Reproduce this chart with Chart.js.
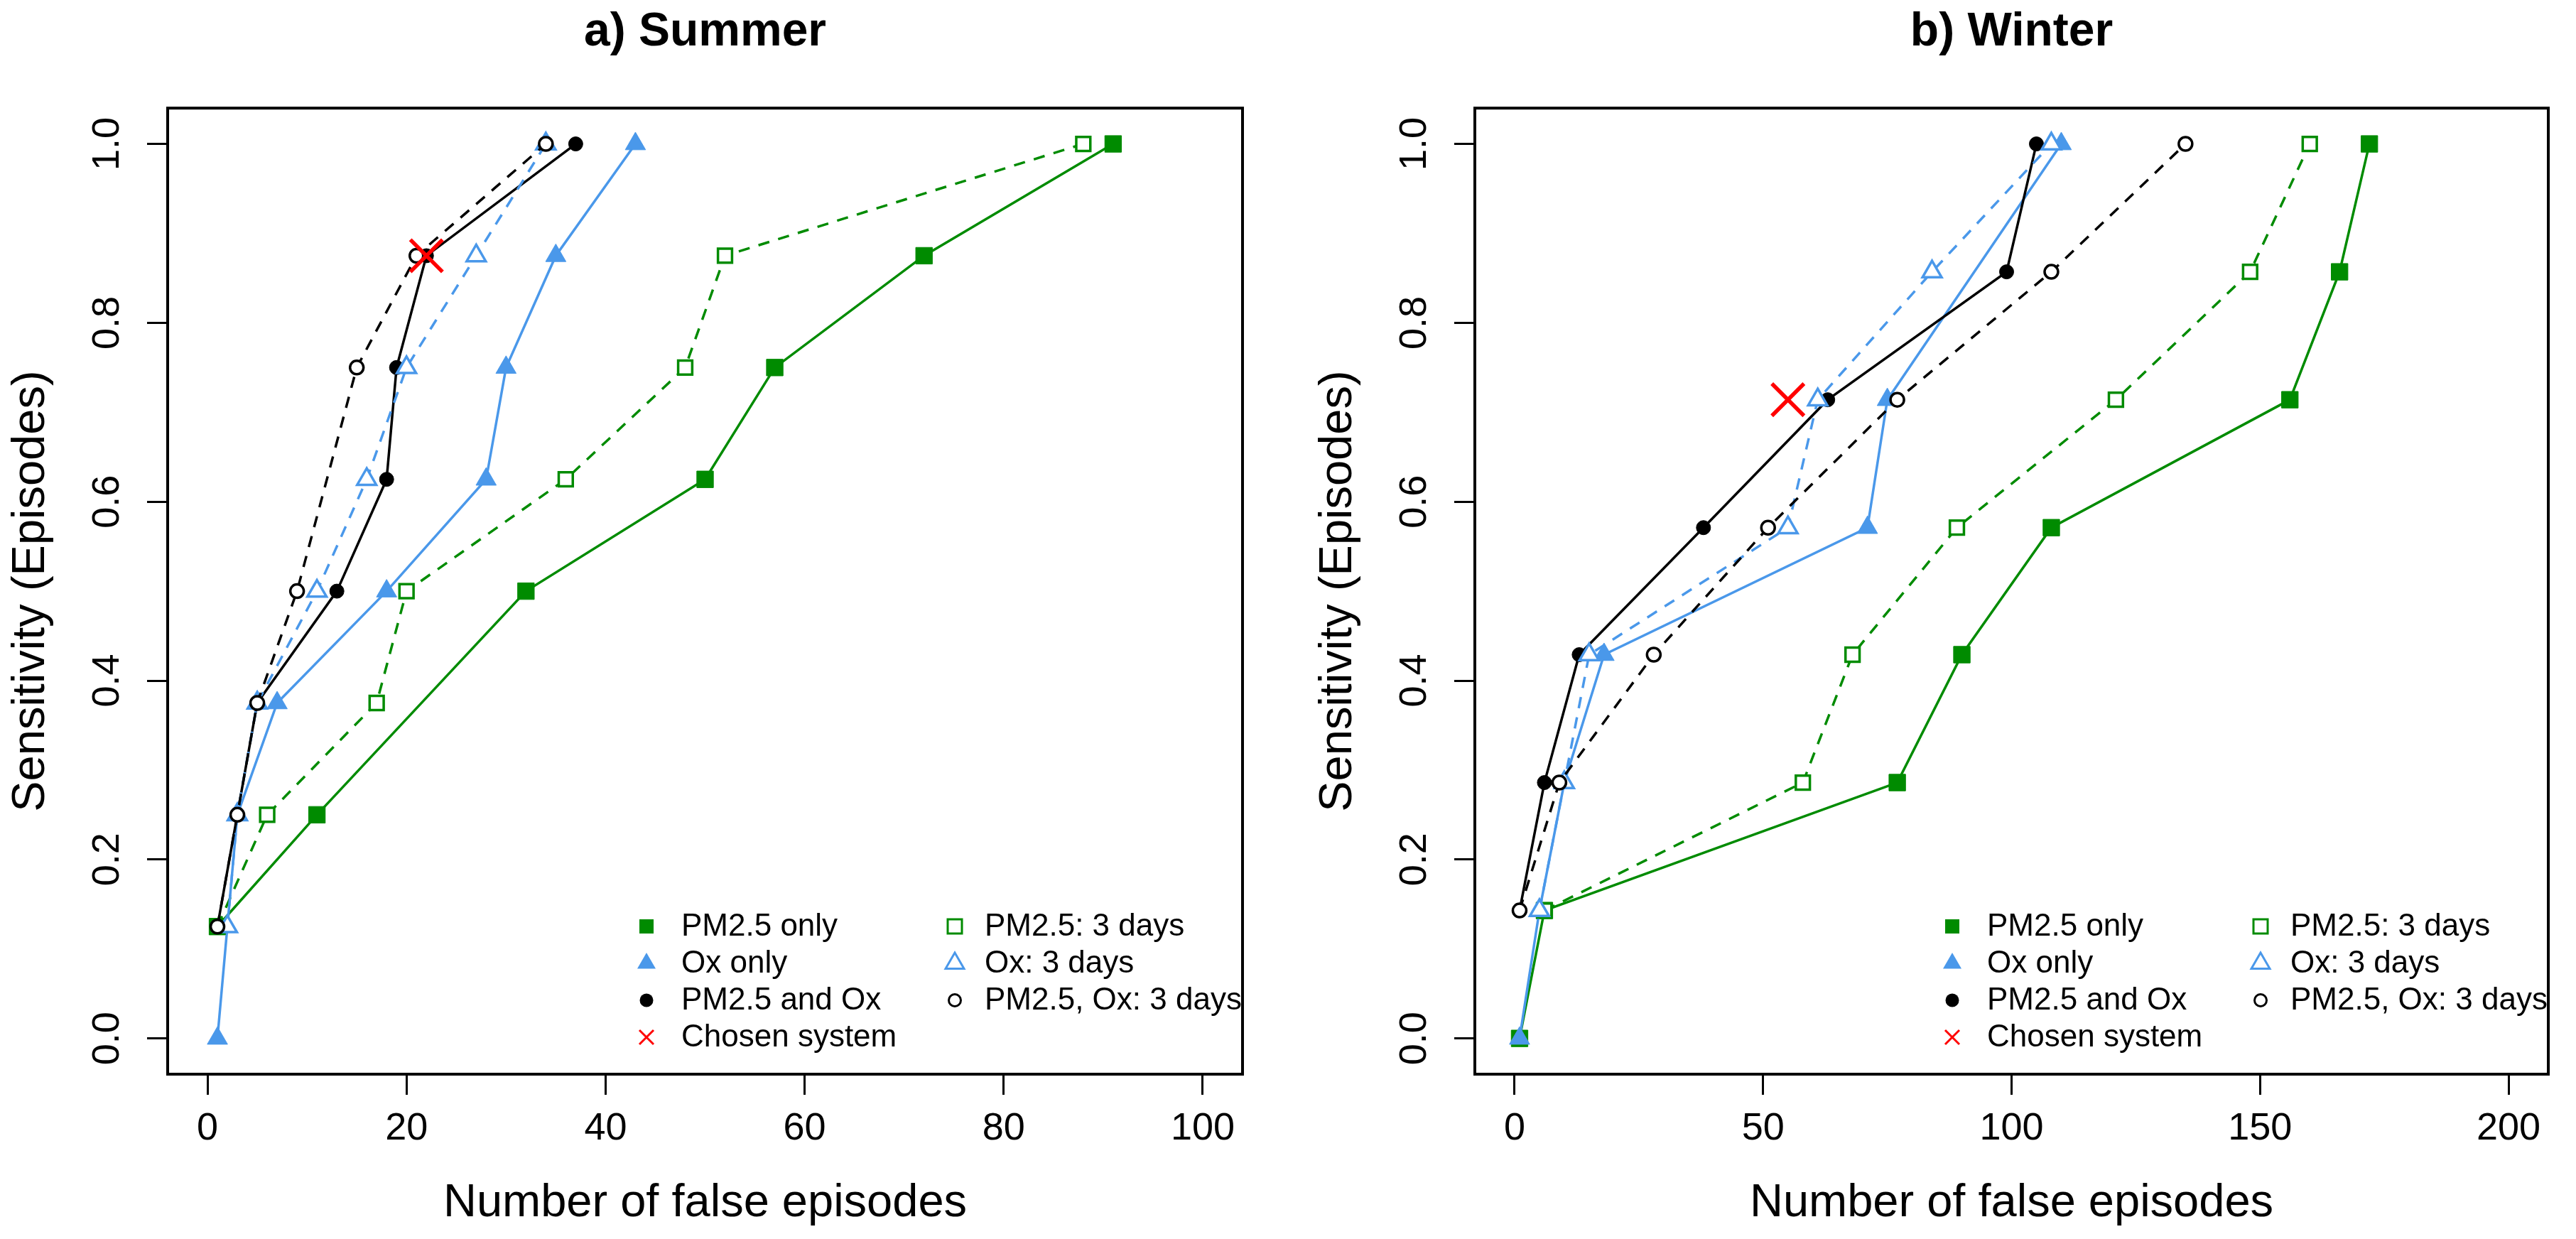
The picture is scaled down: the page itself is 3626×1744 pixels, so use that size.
<!DOCTYPE html>
<html>
<head>
<meta charset="utf-8">
<script src="https://cdn.jsdelivr.net/npm/chart.js@4.4.1/dist/chart.umd.min.js"></script>
<style>
html, body { margin: 0; padding: 0; background: #ffffff; }
body { width: 3626px; height: 1744px; position: relative; overflow: hidden; }
canvas { position: absolute; top: 0; }
#summer { left: 0; }
#winter { left: 1840px; }
</style>
</head>
<body>
<canvas id="summer" width="1840" height="1744" style="width:1840px;height:1744px"></canvas>
<canvas id="winter" width="1786" height="1744" style="width:1786px;height:1744px"></canvas>
<script>
// ---------------- DATA ----------------
const seriesLabels = ["PM2.5 only", "Ox only", "PM2.5 and Ox", "Chosen system",
                      "PM2.5: 3 days", "Ox: 3 days", "PM2.5, Ox: 3 days"];

const yTicks = [0, 0.2, 0.4, 0.6, 0.8, 1.0];
const yTickLabels = ["0.0", "0.2", "0.4", "0.6", "0.8", "1.0"];

const summerXTicks = [0, 20, 40, 60, 80, 100];
const summerXTickLabels = ["0", "20", "40", "60", "80", "100"];
const winterXTicks = [0, 50, 100, 150, 200];
const winterXTickLabels = ["0", "50", "100", "150", "200"];

// Summer (a)
const summerPm25OnlyX = [1, 11, 32, 50, 57, 72, 91];
const summerPm25OnlyY = [0.125, 0.25, 0.5, 0.625, 0.75, 0.875, 1.0];
const summerOxOnlyX = [1, 2, 3, 7, 18, 28, 30, 35, 43];
const summerOxOnlyY = [0, 0.125, 0.25, 0.375, 0.5, 0.625, 0.75, 0.875, 1.0];
const summerBothX = [1, 3, 5, 13, 18, 19, 22, 37];
const summerBothY = [0.125, 0.25, 0.375, 0.5, 0.625, 0.75, 0.875, 1.0];
const summerChosenX = [22];
const summerChosenY = [0.875];
const summerPm25ThreeX = [1, 6, 17, 20, 36, 48, 52, 88];
const summerPm25ThreeY = [0.125, 0.25, 0.375, 0.5, 0.625, 0.75, 0.875, 1.0];
const summerOxThreeX = [2, 3, 5, 11, 16, 20, 27, 34];
const summerOxThreeY = [0.125, 0.25, 0.375, 0.5, 0.625, 0.75, 0.875, 1.0];
const summerBothThreeX = [1, 3, 5, 9, 15, 21, 34];
const summerBothThreeY = [0.125, 0.25, 0.375, 0.5, 0.75, 0.875, 1.0];

// Winter (b)
const winterPm25OnlyX = [1, 6, 77, 90, 108, 156, 166, 172];
const winterPm25OnlyY = [0, 0.143, 0.286, 0.429, 0.571, 0.714, 0.857, 1.0];
const winterOxOnlyX = [1, 5, 10, 18, 71, 75, 110];
const winterOxOnlyY = [0, 0.143, 0.286, 0.429, 0.571, 0.714, 1.0];
const winterBothX = [1, 6, 13, 38, 63, 99, 105];
const winterBothY = [0.143, 0.286, 0.429, 0.571, 0.714, 0.857, 1.0];
const winterChosenX = [55];
const winterChosenY = [0.714];
const winterPm25ThreeX = [6, 58, 68, 89, 121, 148, 160];
const winterPm25ThreeY = [0.143, 0.286, 0.429, 0.571, 0.714, 0.857, 1.0];
const winterOxThreeX = [5, 10, 15, 55, 61, 84, 108];
const winterOxThreeY = [0.143, 0.286, 0.429, 0.571, 0.714, 0.857, 1.0];
const winterBothThreeX = [1, 9, 28, 51, 77, 108, 135];
const winterBothThreeY = [0.143, 0.286, 0.429, 0.571, 0.714, 0.857, 1.0];

// ---------------- STYLES ----------------
const FONT = "'Liberation Sans', Arial, Helvetica, sans-serif";
const GREEN = "#008B00";
const BLUE = "#4A98EA";
const BLACK = "#000000";
const RED = "#FF0000";

// style per series (same order as seriesLabels)
const seriesStyles = [
  { color: GREEN, shape: "rect",     filled: true,  dash: false, line: true,  r: 16.5, pbw: 1,   order: 6 },
  { color: BLUE,  shape: "triangle", filled: true,  dash: false, line: true,  r: 16.5, pbw: 1,   order: 5 },
  { color: BLACK, shape: "circle",   filled: true,  dash: false, line: true,  r: 10,   pbw: 1,   order: 4 },
  { color: RED,   shape: "crossRot", filled: false, dash: false, line: false, r: 32,   pbw: 5.5, order: 0 },
  { color: GREEN, shape: "rect",     filled: false, dash: true,  line: true,  r: 14,   pbw: 3.5, order: 3 },
  { color: BLUE,  shape: "triangle", filled: false, dash: true,  line: true,  r: 15.5, pbw: 3.5, order: 2 },
  { color: BLACK, shape: "circle",   filled: false, dash: true,  line: true,  r: 9.5,  pbw: 3.5, order: 1 }
];

function toPoints(xs, ys) { return xs.map((x, i) => ({ x: x, y: ys[i] })); }

function buildDatasets(seriesXY) {
  return seriesXY.map((xy, i) => {
    const st = seriesStyles[i];
    return {
      label: seriesLabels[i],
      data: toPoints(xy[0], xy[1]),
      showLine: st.line,
      borderColor: st.color,
      backgroundColor: st.color,
      borderWidth: 3.5,
      borderDash: st.dash ? [16, 13] : [],
      tension: 0,
      pointStyle: st.shape,
      pointRadius: st.r,
      pointHoverRadius: st.r,
      pointBorderWidth: st.pbw,
      pointBorderColor: st.color,
      pointBackgroundColor: st.filled ? st.color : "#ffffff",
      order: st.order,
      _st: st
    };
  });
}

// legend symbol drawing
function drawSymbol(ctx, st, x, y) {
  ctx.save();
  ctx.setLineDash([]);
  ctx.strokeStyle = st.color;
  ctx.fillStyle = st.color;
  ctx.lineWidth = 3;
  ctx.beginPath();
  if (st.shape === "rect") {
    if (st.filled) { ctx.fillRect(x - 10, y - 10, 20, 20); }
    else { ctx.strokeRect(x - 10, y - 10, 20, 20); }
  } else if (st.shape === "triangle") {
    const r = 15;
    ctx.moveTo(x, y - r);
    ctx.lineTo(x + 0.866 * r, y + 0.5 * r);
    ctx.lineTo(x - 0.866 * r, y + 0.5 * r);
    ctx.closePath();
    if (st.filled) ctx.fill(); else ctx.stroke();
  } else if (st.shape === "circle") {
    if (st.filled) { ctx.arc(x, y, 9.5, 0, Math.PI * 2); ctx.fill(); }
    else { ctx.arc(x, y, 8.5, 0, Math.PI * 2); ctx.stroke(); }
  } else if (st.shape === "crossRot") {
    const h = 10;
    ctx.moveTo(x - h, y - h); ctx.lineTo(x + h, y + h);
    ctx.moveTo(x + h, y - h); ctx.lineTo(x - h, y + h);
    ctx.stroke();
  }
  ctx.restore();
}

const framePlugin = {
  id: "frameAndLegend",
  afterDraw(chart) {
    const ctx = chart.ctx;
    const a = chart.chartArea;
    ctx.save();
    ctx.setLineDash([]);
    ctx.strokeStyle = "#000";
    ctx.lineWidth = 4;
    ctx.strokeRect(a.left, a.top, a.right - a.left, a.bottom - a.top);

    // legend (bottom-right, two columns filled column-wise)
    const rows = [208, 156, 104, 52];
    const cols = [{ sym: 839, txt: 790 }, { sym: 405, txt: 363 }];
    ctx.font = "44px " + FONT;
    ctx.textBaseline = "middle";
    ctx.textAlign = "left";
    ctx.fillStyle = "#000";
    chart.data.datasets.forEach((ds, i) => {
      const col = i < 4 ? 0 : 1;
      const row = i < 4 ? i : i - 4;
      const y = a.bottom - rows[row];
      drawSymbol(ctx, ds._st, a.right - cols[col].sym, y);
      ctx.fillStyle = "#000";
      ctx.fillText(ds.label, a.right - cols[col].txt, y + 1);
    });
    ctx.restore();
  }
};

function makeChart(id, titleText, seriesXY, xMin, xMax, xTicks, xTickLabels, padRight) {
  const ctx = document.getElementById(id).getContext("2d");
  return new Chart(ctx, {
    type: "scatter",
    data: { datasets: buildDatasets(seriesXY) },
    plugins: [framePlugin],
    options: {
      responsive: false,
      devicePixelRatio: 1,
      animation: false,
      events: [],
      layout: { padding: { left: 0, right: padRight, top: 0, bottom: 0 } },
      plugins: {
        legend: { display: false },
        tooltip: { enabled: false },
        title: {
          display: true,
          text: titleText,
          fullSize: false,
          color: "#000",
          font: { family: FONT, size: 66, weight: "bold" },
          padding: { top: 6, bottom: 67 }
        }
      },
      scales: {
        x: {
          type: "linear",
          min: xMin,
          max: xMax,
          afterBuildTicks: (s) => { s.ticks = xTicks.map(v => ({ value: v })); },
          afterFit: (s) => { s.height = 232; },
          ticks: {
            autoSkip: false,
            maxRotation: 0,
            minRotation: 0,
            padding: 16,
            color: "#000",
            font: { family: FONT, size: 54 },
            callback: (v, i) => xTickLabels[i]
          },
          grid: { display: true, drawOnChartArea: false, drawTicks: true, tickLength: 29, color: "#000", lineWidth: 3 },
          border: { display: false },
          title: {
            display: true,
            text: "Number of false episodes",
            color: "#000",
            font: { family: FONT, size: 65 },
            padding: { top: 0, bottom: 11 }
          }
        },
        y: {
          type: "linear",
          min: -0.04,
          max: 1.04,
          afterBuildTicks: (s) => { s.ticks = yTicks.map(v => ({ value: v })); },
          afterFit: (s) => { s.width = 236; },
          ticks: {
            autoSkip: false,
            minRotation: 90,
            maxRotation: 90,
            crossAlign: "center",
            padding: 17,
            color: "#000",
            font: { family: FONT, size: 54 },
            callback: (v, i) => yTickLabels[i]
          },
          grid: { display: true, drawOnChartArea: false, drawTicks: true, tickLength: 29, color: "#000", lineWidth: 3 },
          border: { display: false },
          title: {
            display: true,
            text: "Sensitivity (Episodes)",
            color: "#000",
            font: { family: FONT, size: 65 },
            padding: { top: 5, bottom: 0 }
          }
        }
      }
    }
  });
}

makeChart("summer", "a) Summer", [
  [summerPm25OnlyX, summerPm25OnlyY],
  [summerOxOnlyX, summerOxOnlyY],
  [summerBothX, summerBothY],
  [summerChosenX, summerChosenY],
  [summerPm25ThreeX, summerPm25ThreeY],
  [summerOxThreeX, summerOxThreeY],
  [summerBothThreeX, summerBothThreeY]
], -4, 104, summerXTicks, summerXTickLabels, 91);

makeChart("winter", "b) Winter", [
  [winterPm25OnlyX, winterPm25OnlyY],
  [winterOxOnlyX, winterOxOnlyY],
  [winterBothX, winterBothY],
  [winterChosenX, winterChosenY],
  [winterPm25ThreeX, winterPm25ThreeY],
  [winterOxThreeX, winterOxThreeY],
  [winterBothThreeX, winterBothThreeY]
], -8, 208, winterXTicks, winterXTickLabels, 39);
</script>
</body>
</html>
